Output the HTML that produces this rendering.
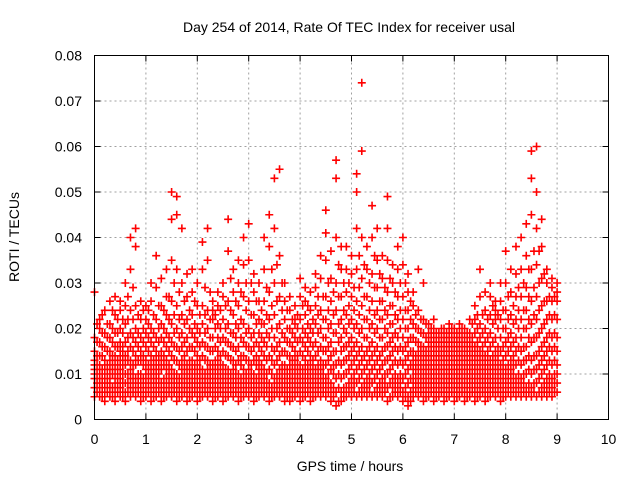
<!DOCTYPE html>
<html><head><meta charset="utf-8"><style>
body{margin:0;background:#fff;width:640px;height:480px;overflow:hidden}
svg{font-family:"Liberation Sans",sans-serif}
</style></head><body>
<svg id="chart" width="640" height="480" viewBox="0 0 640 480">
<rect width="640" height="480" fill="#fff"/>
<text x="349" y="32" font-size="14" text-anchor="middle">Day 254 of 2014, Rate Of TEC Index for receiver usal</text>
<text x="350" y="471" font-size="14" text-anchor="middle">GPS time / hours</text>
<text transform="translate(19,237) rotate(-90)" font-size="14" text-anchor="middle">ROTI / TECUs</text>
<g id="grid"></g>
<g id="ticks"></g>
<g id="points"></g>
<rect x="94.5" y="55.5" width="514" height="364" fill="none" stroke="#000" stroke-width="1"/>
</svg>
<script>
const xTicks=[0,1,2,3,4,5,6,7,8,9,10];
const yTicks=[0,0.01,0.02,0.03,0.04,0.05,0.06,0.07,0.08];
const yTickLabels=["0","0.01","0.02","0.03","0.04","0.05","0.06","0.07","0.08"];
const times=[];for(let i=0;i<=90;i++)times.push(i/10);
const times2=[];for(let i=0;i<90;i++)times2.push(i/10+0.05);
const values=[
[5,7,9,11,13,15,18,28,10,12],[5,6,8,10,12,14,17,20,22,9],[4,6,8,10,11,13,16,19,24,7],[5,7,9,11,13,15,18,21,26,8],
[4,6,8,10,12,14,16,19,23,27],[5,7,9,11,13,15,17,20,24,26],[4,6,8,10,12,14,17,21,25,30],[5,7,9,11,13,16,19,24,33,40],
[5,7,9,12,14,17,20,25,38,42],[4,6,8,10,13,15,18,22,26,9],[5,7,9,11,13,16,19,22,25,10],[4,6,8,10,12,14,17,20,26,30],
[5,7,9,11,13,15,18,22,29,36],[4,6,8,11,13,15,18,21,25,31],[5,7,9,11,13,16,19,23,27,33],[5,7,9,11,14,17,21,26,35,44,50],
[4,6,8,10,13,16,20,25,33,45,49],[5,7,9,11,13,16,19,23,30,42],[4,6,8,10,12,15,18,22,27,32],[5,7,9,11,13,16,19,23,28,33],
[4,6,8,10,12,14,17,20,25,30],[5,7,9,11,14,17,21,25,33,39],[5,7,9,11,13,16,20,24,35,42],[4,6,8,10,12,15,18,22,26,24],
[5,7,9,11,13,15,18,21,25,28],[4,6,8,10,12,15,18,22,27,30],[5,7,9,11,14,17,21,26,37,44],[5,7,9,11,13,16,19,23,28,33],
[4,6,8,10,13,16,20,25,30,35],[5,7,9,11,14,17,21,27,34,40],[5,7,9,11,13,16,20,26,35,43],[4,6,8,10,13,16,19,23,28,32],
[5,7,9,11,13,16,19,22,26,30],[5,7,9,11,14,17,21,26,33,40],[4,6,8,11,14,18,22,28,38,45],[5,7,9,12,15,18,23,30,42,53],
[5,7,9,11,14,17,21,27,36,55],[4,6,8,10,12,15,18,22,26,30],[4,6,8,10,12,14,17,20,24,27],[5,7,9,11,13,15,18,21,25,22],
[4,6,8,10,12,15,18,22,27,31],[5,7,9,11,13,16,19,23,26,29],[4,6,8,10,12,14,17,20,24,28],[5,7,9,11,14,17,21,25,29,32],
[5,7,9,11,13,16,20,24,31,36],[5,7,9,12,15,18,22,27,35,41,46],[4,6,8,11,14,17,21,26,31,37],[3,6,9,12,15,19,24,30,40,53,57],
[4,6,9,12,15,18,22,27,33,38],[5,7,10,13,16,19,23,28,33,38],[5,7,9,12,15,18,22,27,32,36],[5,8,11,14,17,21,26,33,42,50,54],
[5,7,10,13,16,20,25,31,40,59,74],[5,7,9,12,15,18,22,27,33,38],[5,8,11,14,17,21,26,32,40,47],[5,7,10,13,16,20,24,29,35,42],
[5,7,9,12,15,18,22,26,31,36],[4,7,10,13,16,19,23,28,35,42,49],[5,7,9,12,15,18,21,25,30,34],[5,7,9,12,15,18,22,27,33,38],
[4,6,9,12,15,18,22,27,34,40],[3,5,8,11,14,17,20,24,28,32],[5,7,9,11,13,15,18,21,25,28],[5,7,9,11,13,15,17,20,24,33],
[4,6,8,10,12,14,16,19,22,30],[5,7,9,11,13,15,17,19,21,12],[4,6,8,10,12,14,16,18,20,22],[5,7,9,11,13,15,17,19,10,14],
[4,6,8,10,12,14,16,18,20,12],[5,7,9,11,13,15,17,19,21,10],[4,6,8,10,12,14,16,18,20,13],[5,7,9,11,13,15,17,19,21,11],
[4,6,8,10,12,14,16,18,20,9],[5,7,9,11,13,15,17,19,22,12],[4,6,8,10,12,14,16,19,22,25],[5,7,9,11,13,15,18,21,27,33],
[4,6,8,10,12,14,17,20,24,28],[5,7,9,11,13,16,19,23,27,30],[5,7,9,11,13,15,18,22,26,24],[4,6,8,10,12,15,18,22,26,30],
[5,7,9,11,14,17,20,24,30,37],[5,7,9,11,13,16,19,23,28,33],[5,7,9,12,15,18,22,27,32,38],[5,7,9,12,15,18,22,27,33,40],
[5,7,10,13,16,20,24,29,36,43],[5,7,10,13,17,21,26,33,45,53,59],[5,8,11,14,18,22,27,34,42,50,60],[5,7,10,13,16,20,25,31,38,44],
[5,7,9,12,15,18,22,26,30,33],[5,7,9,12,15,18,22,26,29,31],[6,8,10,12,15,18,22,26,28,30]
];
const values2=[
[6,8,10,12,14,17,21],[5,7,9,11,14,16,19,23],[6,8,10,12,15,18,21],[5,7,10,12,14,17,20,24],[6,8,9,11,13,16,19,22],
[5,6,8,10,12,14,16,19,22],[6,8,10,13,15,18,22,27],[6,8,10,12,15,18,22,29],[6,8,10,13,16,19,23],[5,7,9,12,14,17,20,24],
[6,8,10,12,15,18,21,24],[5,7,9,11,13,16,19,23],[6,8,10,12,14,17,20,25],[5,7,9,12,14,17,20,24],[6,8,10,12,15,18,22,27],
[6,8,10,13,16,19,23,30],[5,7,9,12,15,18,22,28],[6,8,10,12,14,17,21,26],[5,7,9,11,13,16,20,24],[6,8,10,12,15,18,21,26],
[5,7,9,11,13,16,19,23],[6,8,10,13,16,19,23,29],[6,8,10,12,15,18,22,28],[5,7,9,11,13,16,20,23],[6,8,10,12,14,17,20,24],
[5,7,9,11,14,17,20,25],[6,8,10,13,16,19,24,31],[6,8,10,12,15,18,21,26],[5,7,9,12,14,18,22,28],[6,8,10,13,16,19,24,30],
[6,8,10,12,15,18,23,30],[5,7,9,12,14,17,21,26],[6,8,10,12,15,18,21,24],[6,8,10,13,16,19,23,29],[5,7,10,13,16,20,25,33],
[6,8,10,13,16,20,26,34],[6,8,10,12,15,19,24,30],[5,7,9,11,14,17,20,24],[5,7,9,11,13,16,19,22],[6,8,10,12,14,17,20,23],
[5,7,9,11,14,17,20,25],[6,8,10,12,15,18,21,25],[5,7,9,11,13,16,19,22],[6,8,10,12,15,19,23,27],[6,8,10,12,15,18,22,27],
[6,8,10,13,16,20,24,30],[5,7,10,12,15,19,23,28],[4,7,10,13,17,21,27,34],[5,7,10,13,16,20,24,30],[6,8,11,14,17,21,25,30],
[6,8,10,13,16,20,24,29],[6,9,12,15,19,23,29,36],[6,8,11,14,18,22,27,34],[6,8,10,13,16,20,24,30],[6,9,12,15,19,23,29,36],
[6,8,11,14,18,22,26,32],[6,8,10,13,16,20,24,29],[5,8,11,14,17,21,25,31],[6,8,10,13,16,19,23,28],[6,8,10,13,16,20,24,30],
[5,7,10,13,16,20,24,30],[4,6,9,12,15,18,22,26],[6,8,10,12,14,17,20,23],[6,8,10,12,14,16,19,22],[5,7,9,11,13,15,18,21],
[6,8,10,12,14,16,18,20],[5,7,9,11,13,15,17,19],[6,8,10,12,14,16,18,20],[5,7,9,11,13,15,17,19],[6,8,10,12,14,16,18,20],
[5,7,9,11,13,15,17,19],[6,8,10,12,14,16,18,20],[5,7,9,11,13,15,17,19],[6,8,10,12,14,16,18,21],[5,7,9,11,13,15,17,20,23],
[6,8,10,12,14,16,19,23],[5,7,9,11,13,15,18,22],[6,8,10,12,14,17,21,25],[6,8,10,12,14,16,20,23],[5,7,9,11,13,16,20,24],
[6,8,10,12,15,18,22,27],[6,8,10,12,14,17,21,25],[6,8,10,13,16,20,24,29],[6,8,10,13,16,20,24,30],[6,8,11,14,18,22,27,33],
[6,8,11,14,18,23,29,37],[6,9,12,15,19,24,30,37],[6,8,11,14,17,21,26,32],[6,8,10,13,16,19,23,27],[6,8,10,13,16,19,23,27]
];
const X0=94.5,X1=608.5,Y0=419.5,Y1=55.5;
const xs=v=>X0+(v-0)/(10-0)*(X1-X0);
const ys=v=>Y0-(v-0)/(0.08-0)*(Y0-Y1);
const NS='http://www.w3.org/2000/svg';
const grid=document.getElementById('grid'),ticks=document.getElementById('ticks'),pts=document.getElementById('points');
function mk(t,a,p){const e=document.createElementNS(NS,t);for(const k in a)e.setAttribute(k,a[k]);p.appendChild(e);return e;}
xTicks.forEach((t,i)=>{const x=xs(t);
 if(i>0&&i<xTicks.length-1){const g=mk('line',{x1:x,x2:x,y1:Y0,y2:Y1,stroke:'#a0a0a0','stroke-dasharray':'2,3'},grid);}
 mk('line',{x1:x,x2:x,y1:Y0,y2:Y0-6,stroke:'#000'},ticks);mk('line',{x1:x,x2:x,y1:Y1,y2:Y1+6,stroke:'#000'},ticks);
 const l=mk('text',{x:x,y:444,'font-size':14,'text-anchor':'middle'},ticks);l.textContent=t;
 });
yTicks.forEach((t,i)=>{const y=ys(t);
 if(i>0&&i<yTicks.length-1){const g=mk('line',{x1:X0,x2:X1,y1:y,y2:y,stroke:'#a0a0a0','stroke-dasharray':'2,3'},grid);}
 mk('line',{x1:X0,x2:X0+6,y1:y,y2:y,stroke:'#000'},ticks);mk('line',{x1:X1,x2:X1-6,y1:y,y2:y,stroke:'#000'},ticks);
 const l=mk('text',{x:82,y:y+5,'font-size':14,'text-anchor':'end'},ticks);l.textContent=yTickLabels[i];
 });
let d='';
times.forEach((t,i)=>{values[i].forEach(v=>{const x=xs(t),y=ys(v/1000);d+=`M${x-4},${y}h8M${x},${y-4}v8`;});});
times2.forEach((t,i)=>{values2[i].forEach(v=>{const x=xs(t),y=ys(v/1000);d+=`M${x-4},${y}h8M${x},${y-4}v8`;});});
const p=mk('path',{d:d,stroke:'#f00','stroke-width':1.6,fill:'none'},pts);


</script>
</body></html>
